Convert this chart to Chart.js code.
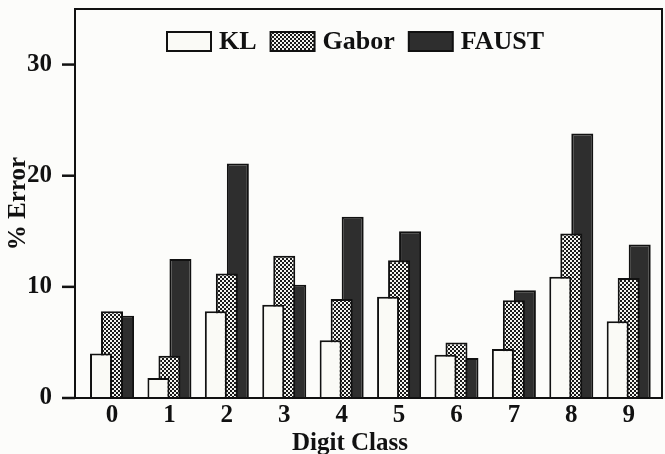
<!DOCTYPE html>
<html lang="en">
<head>
  <meta charset="UTF-8">
  <title>% Error by Digit Class</title>
  <script src="https://cdn.jsdelivr.net/npm/chart.js"></script>
  <style>
    body {
      margin: 0;
      background: #fcfcfa;
    }

    .chart-box {
      position: relative;
      width: 665px;
      height: 454px;
    }
  </style>
</head>
<body>
  <div class="chart-box">
    <canvas id="errChart"></canvas>
  </div>

  <script>
    const digitClasses = ['0', '1', '2', '3', '4', '5', '6', '7', '8', '9'];
    const klErr = [4.0, 1.8, 7.8, 8.4, 5.2, 9.1, 3.9, 4.4, 10.9, 6.9];
    const gaborErr = [7.8, 3.8, 11.2, 12.8, 8.9, 12.4, 5.0, 8.8, 14.8, 10.8];
    const faustErr = [7.4, 12.5, 21.1, 10.2, 16.3, 15.0, 3.6, 9.7, 23.8, 13.8];
    const yTicks = [0, 10, 20, 30];
    const xTitle = 'Digit Class';

    const serif = 'Liberation Serif, Times New Roman, serif';

    // checkered dither for the Gabor bars
    function makeDither() {
      const c = document.createElement('canvas');
      c.width = 4;
      c.height = 4;
      const g = c.getContext('2d');
      g.fillStyle = '#f4f4f0';
      g.fillRect(0, 0, 4, 4);
      g.fillStyle = '#1a1a1a';
      g.fillRect(0, 0, 2, 2);
      g.fillRect(2, 2, 2, 2);
      return g.createPattern(c, 'repeat');
    }

    const ctx = document.getElementById('errChart').getContext('2d');
    const dither = makeDither();

    const toPoints = arr => arr.map((v, i) => ({ x: i, y: v }));

    // frame, y tick marks and x title
    const framePlugin = {
      id: 'frame',
      afterDraw(chart) {
        const a = chart.chartArea;
        const c = chart.ctx;
        const y = chart.scales.y;
        c.save();
        c.strokeStyle = '#111';
        c.lineWidth = 2;
        c.strokeRect(a.left, a.top, a.right - a.left, a.bottom - a.top);
        c.lineWidth = 2.5;
        yTicks.forEach(v => {
          const py = y.getPixelForValue(v);
          c.beginPath();
          c.moveTo(a.left - 13, py);
          c.lineTo(a.left, py);
          c.stroke();
        });
        c.fillStyle = '#111';
        c.font = 'bold 25px ' + serif;
        c.textAlign = 'center';
        c.textBaseline = 'alphabetic';
        c.fillText(xTitle, 350, 450);
        c.restore();
      }
    };

    // legend drawn inside the frame
    const insideLegend = {
      id: 'insideLegend',
      afterDraw(chart) {
        const c = chart.ctx;
        const boxW = 44, boxH = 19, gapText = 8, gapItem = 14;
        const top = 32;
        c.save();
        c.font = 'bold 26px ' + serif;
        c.textBaseline = 'middle';
        let x = 167;
        chart.data.datasets.forEach(ds => {
          c.fillStyle = ds.backgroundColor;
          c.fillRect(x, top, boxW, boxH);
          c.strokeStyle = '#111';
          c.lineWidth = 2;
          c.strokeRect(x, top, boxW, boxH);
          x += boxW + gapText;
          c.fillStyle = '#111';
          c.fillText(ds.label, x, top + boxH / 2 + 1);
          x += c.measureText(ds.label).width + gapItem;
        });
        c.restore();
      }
    };

    const barStyle = {
      borderColor: '#111',
      borderWidth: 2,
      categoryPercentage: 0.575,
      barPercentage: 2.0,
    };

    new Chart(ctx, {
      type: 'bar',
      data: {
        datasets: [
          { label: 'KL', data: toPoints(klErr), backgroundColor: '#fafaf6', ...barStyle },
          { label: 'Gabor', data: toPoints(gaborErr), backgroundColor: dither, ...barStyle },
          { label: 'FAUST', data: toPoints(faustErr), backgroundColor: '#2e2e2e', ...barStyle },
        ],
      },
      options: {
        responsive: true,
        maintainAspectRatio: false,
        animation: false,
        layout: { padding: { top: 9, right: 3, left: 0, bottom: 0 } },
        plugins: {
          legend: { display: false },
          tooltip: { enabled: false },
        },
        scales: {
          x: {
            type: 'linear',
            offset: false,
            min: -0.645,
            max: 9.58,
            afterBuildTicks: s => { s.ticks = digitClasses.map((_, i) => ({ value: i })); },
            afterFit: s => { s.height = 56; s.paddingLeft = 0; s.paddingRight = 0; },
            grid: { display: false, drawTicks: false },
            border: { display: false },
            ticks: {
              padding: 3,
              color: '#111',
              font: { family: serif, size: 25, weight: 'bold' },
              callback: v => digitClasses[v],
            },
          },
          y: {
            min: 0,
            max: 35,
            afterBuildTicks: s => { s.ticks = yTicks.map(v => ({ value: v })); },
            afterFit: s => { s.width = 75; s.paddingTop = 0; s.paddingBottom = 0; },
            grid: { display: false },
            border: { display: false },
            ticks: {
              padding: 15,
              color: '#111',
              font: { family: serif, size: 25, weight: 'bold' },
            },
            title: {
              display: true,
              text: '% Error',
              color: '#111',
              padding: { top: 4, bottom: 0 },
              font: { family: serif, size: 25, weight: 'bold' },
            },
          },
        },
      },
      plugins: [framePlugin, insideLegend],
    });
  </script>
</body>
</html>
